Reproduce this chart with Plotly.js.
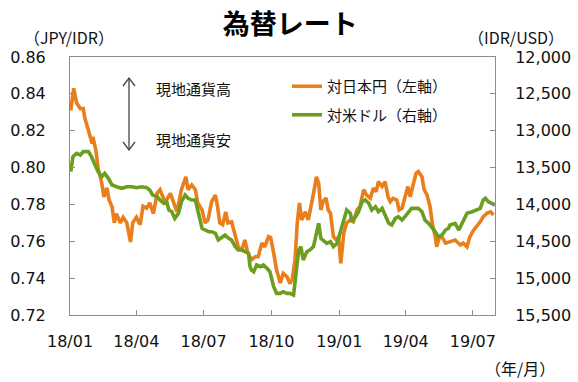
<!DOCTYPE html>
<html>
<head>
<meta charset="utf-8">
<script src="https://cdn.plot.ly/plotly-3.0.1.min.js"></script>
<style>
html,body{margin:0;padding:0;background:#fff;}
#chart{width:578px;height:382px;}
</style>
</head>
<body>
<div id="chart"></div>
<script>
// 対日本円（左軸） JPY/IDR
const jpyDates = ['2018-01-02','2018-01-06','2018-01-10','2018-01-15','2018-01-19','2018-01-21','2018-01-25','2018-01-31','2018-02-01','2018-02-05','2018-02-08','2018-02-13','2018-02-16','2018-02-20','2018-02-23','2018-02-27','2018-03-02','2018-03-05','2018-03-10','2018-03-14','2018-03-19','2018-03-24','2018-03-27','2018-04-01','2018-04-06','2018-04-10','2018-04-15','2018-04-19','2018-04-24','2018-04-29','2018-05-03','2018-05-10','2018-05-17','2018-05-21','2018-05-26','2018-06-01','2018-06-07','2018-06-10','2018-06-15','2018-06-20','2018-06-23','2018-06-29','2018-07-03','2018-07-07','2018-07-12','2018-07-17','2018-07-20','2018-07-23','2018-07-27','2018-07-31','2018-08-03','2018-08-08','2018-08-13','2018-08-17','2018-08-22','2018-08-26','2018-08-30','2018-09-04','2018-09-09','2018-09-13','2018-09-18','2018-09-22','2018-09-27','2018-09-30','2018-10-04','2018-10-08','2018-10-13','2018-10-17','2018-10-22','2018-10-26','2018-10-29','2018-11-02','2018-11-05','2018-11-08','2018-11-11','2018-11-16','2018-11-20','2018-11-25','2018-11-28','2018-12-01','2018-12-04','2018-12-07','2018-12-10','2018-12-14','2018-12-17','2018-12-20','2018-12-24','2018-12-28','2018-12-31','2019-01-03','2019-01-07','2019-01-11','2019-01-16','2019-01-20','2019-01-25','2019-01-29','2019-02-03','2019-02-07','2019-02-12','2019-02-16','2019-02-20','2019-02-23','2019-02-28','2019-03-04','2019-03-08','2019-03-11','2019-03-15','2019-03-20','2019-03-23','2019-03-27','2019-03-31','2019-04-04','2019-04-07','2019-04-12','2019-04-15','2019-04-18','2019-04-23','2019-04-26','2019-04-30','2019-05-04','2019-05-07','2019-05-11','2019-05-13','2019-05-16','2019-05-20','2019-05-25','2019-05-31','2019-06-07','2019-06-14','2019-06-18','2019-06-23','2019-06-27','2019-07-02','2019-07-06','2019-07-11','2019-07-15','2019-07-20','2019-07-25','2019-07-29'];
const jpyValues = [0.831,0.843,0.835,0.832,0.832,0.827,0.8215,0.813,0.8166,0.8095,0.800,0.7916,0.784,0.789,0.7824,0.7786,0.770,0.775,0.770,0.773,0.770,0.7596,0.770,0.773,0.769,0.779,0.778,0.7808,0.775,0.786,0.788,0.781,0.786,0.782,0.776,0.788,0.795,0.788,0.7906,0.788,0.781,0.777,0.770,0.7716,0.7815,0.785,0.7788,0.770,0.769,0.776,0.770,0.7706,0.7625,0.757,0.7553,0.7607,0.7536,0.750,0.7516,0.7516,0.759,0.757,0.7625,0.762,0.7536,0.7444,0.7374,0.7426,0.7408,0.737,0.739,0.750,0.770,0.7808,0.7716,0.776,0.7716,0.7808,0.788,0.795,0.7916,0.777,0.7815,0.7835,0.777,0.7753,0.7625,0.7607,0.7625,0.748,0.7643,0.770,0.7716,0.7706,0.777,0.7788,0.788,0.785,0.7833,0.7888,0.787,0.7924,0.7897,0.7924,0.7842,0.7815,0.7833,0.7824,0.777,0.7779,0.7842,0.7897,0.7842,0.7924,0.7969,0.7978,0.795,0.788,0.785,0.7788,0.7697,0.7625,0.757,0.7616,0.7625,0.759,0.760,0.7607,0.758,0.759,0.757,0.7625,0.766,0.768,0.7706,0.7733,0.7752,0.776,0.7743];

// 対米ドル（右軸） IDR/USD
const usdDates = ['2018-01-02','2018-01-05','2018-01-10','2018-01-15','2018-01-19','2018-01-26','2018-01-30','2018-02-04','2018-02-08','2018-02-13','2018-02-17','2018-02-22','2018-02-27','2018-03-05','2018-03-12','2018-03-19','2018-03-26','2018-04-01','2018-04-08','2018-04-15','2018-04-19','2018-04-23','2018-04-29','2018-05-03','2018-05-08','2018-05-12','2018-05-15','2018-05-19','2018-05-23','2018-05-28','2018-06-01','2018-06-06','2018-06-10','2018-06-15','2018-06-20','2018-06-22','2018-06-25','2018-06-29','2018-07-03','2018-07-08','2018-07-12','2018-07-17','2018-07-21','2018-07-26','2018-07-30','2018-08-04','2018-08-08','2018-08-13','2018-08-17','2018-08-22','2018-08-26','2018-08-31','2018-09-02','2018-09-04','2018-09-07','2018-09-11','2018-09-16','2018-09-20','2018-09-25','2018-09-29','2018-10-04','2018-10-08','2018-10-13','2018-10-17','2018-10-22','2018-10-26','2018-10-31','2018-11-03','2018-11-07','2018-11-10','2018-11-13','2018-11-18','2018-11-22','2018-11-27','2018-12-01','2018-12-04','2018-12-07','2018-12-10','2018-12-15','2018-12-20','2018-12-24','2018-12-29','2019-01-02','2019-01-07','2019-01-11','2019-01-16','2019-01-18','2019-01-23','2019-01-27','2019-02-01','2019-02-05','2019-02-10','2019-02-14','2019-02-19','2019-02-23','2019-02-28','2019-03-04','2019-03-09','2019-03-13','2019-03-18','2019-03-22','2019-03-27','2019-03-31','2019-04-05','2019-04-09','2019-04-14','2019-04-18','2019-04-23','2019-04-27','2019-05-02','2019-05-06','2019-05-11','2019-05-15','2019-05-20','2019-05-25','2019-05-29','2019-05-31','2019-06-07','2019-06-12','2019-06-18','2019-06-23','2019-06-30','2019-07-06','2019-07-11','2019-07-15','2019-07-18','2019-07-22','2019-07-27','2019-07-31'];
const usdValues = [13556,13352,13306,13329,13284,13284,13352,13465,13556,13624,13578,13646,13737,13760,13781,13760,13760,13773,13760,13773,13804,13872,13895,13940,13985,13963,14076,14099,14189,14121,13963,13872,13917,13940,13940,14031,14144,14324,14347,14370,14370,14392,14483,14438,14415,14460,14483,14573,14618,14618,14641,14663,14845,14890,14913,14822,14845,14822,14867,14913,15116,15206,15206,15184,15206,15206,15229,14935,14618,14573,14754,14641,14618,14573,14392,14256,14460,14483,14528,14505,14573,14528,14392,14211,14076,14121,14234,14166,14099,13963,13940,13985,14076,14031,14099,14053,14144,14256,14279,14189,14166,14211,14166,14099,14053,14053,14053,14099,14211,14256,14302,14370,14438,14415,14347,14324,14279,14256,14347,14211,14121,14099,14076,14053,13940,13917,13963,13985,14008];

const tickVals = ['2018-01-01','2018-04-01','2018-07-01','2018-10-01','2019-01-01','2019-04-01','2019-07-01'];
const tickText = ['18/01','18/04','18/07','18/10','19/01','19/04','19/07'];

const FONT = 'DejaVu Sans, "Noto Sans CJK JP", sans-serif';
const JFONT = '"Noto Sans CJK JP", sans-serif';
const ORANGE = '#EA7E1A';
const GREEN = '#6B9E1F';
const AX = '#8c8c8c';

// helpers to convert pixel positions to paper coords (plot area 70..495 x 57..315)
const px = x => (x - 70) / 425;
const py = y => (315 - y) / 258;

const traces = [
  {x: jpyDates, y: jpyValues, type: 'scatter', mode: 'lines', name: '対日本円（左軸）',
   line: {color: ORANGE, width: 3.6}, yaxis: 'y', legendgroup: 'a'},
  {x: usdDates, y: usdValues, type: 'scatter', mode: 'lines', name: '対米ドル（右軸）',
   line: {color: GREEN, width: 3.6}, yaxis: 'y2', legendgroup: 'b'}
];

const layout = {
  width: 578, height: 382,
  margin: {l: 70, r: 83, t: 57, b: 67, pad: 0},
  paper_bgcolor: '#fff', plot_bgcolor: '#fff',
  font: {family: FONT, size: 16, color: '#111'},
  title: {text: '<b>為替レート</b>', font: {family: JFONT, size: 27, color: '#000'},
          x: 0.502, xanchor: 'center', y: 0.936, yanchor: 'middle', yref: 'container'},
  showlegend: true,
  legend: {x: px(287), y: py(70), xanchor: 'left', yanchor: 'top',
           bgcolor: 'rgba(0,0,0,0)', font: {family: JFONT, size: 15, color: '#111'},
           tracegroupgap: 6, traceorder: 'grouped', itemwidth: 30},
  xaxis: {type: 'date', range: ['2018-01-01', '2019-07-31'],
          tickmode: 'array', tickvals: tickVals, ticktext: tickText,
          ticks: 'inside', ticklen: 5, tickcolor: AX, tickwidth: 1,
          showline: true, linecolor: AX, linewidth: 1, mirror: true,
          showgrid: false, zeroline: false, ticklabelstandoff: 12,
          tickfont: {family: FONT, size: 16, color: '#111'}},
  yaxis: {range: [0.72, 0.86], dtick: 0.02, tick0: 0.72, tickformat: '.2f',
          ticks: 'inside', ticklen: 5, tickcolor: AX, tickwidth: 1,
          showline: true, linecolor: AX, linewidth: 1, mirror: false,
          showgrid: false, zeroline: false, ticklabelstandoff: 20,
          tickfont: {family: FONT, size: 16, color: '#111'}},
  yaxis2: {range: [15500, 12000], dtick: 500, tick0: 12000, tickformat: ',d',
           overlaying: 'y', side: 'right',
           ticks: 'inside', ticklen: 5, tickcolor: AX, tickwidth: 1,
           showline: true, linecolor: AX, linewidth: 1,
           showgrid: false, zeroline: false, ticklabelstandoff: 16,
           tickfont: {family: FONT, size: 16, color: '#111'}},
  shapes: [
    {type: 'line', xref: 'paper', yref: 'paper', x0: px(129), x1: px(129), y0: py(78), y1: py(150),
     line: {color: '#444', width: 1.3}},
    {type: 'path', xref: 'paper', yref: 'paper',
     path: `M ${px(123)} ${py(86)} L ${px(129)} ${py(78)} L ${px(135)} ${py(86)}`,
     line: {color: '#444', width: 1.3}},
    {type: 'path', xref: 'paper', yref: 'paper',
     path: `M ${px(123)} ${py(142)} L ${px(129)} ${py(150)} L ${px(135)} ${py(142)}`,
     line: {color: '#444', width: 1.3}}
  ],
  annotations: [
    {text: '現地通貨高', xref: 'paper', yref: 'paper', x: px(154), y: py(88),
     xanchor: 'left', yanchor: 'middle', showarrow: false, font: {family: JFONT, size: 15, color: '#111'}},
    {text: '現地通貨安', xref: 'paper', yref: 'paper', x: px(154), y: py(139),
     xanchor: 'left', yanchor: 'middle', showarrow: false, font: {family: JFONT, size: 15, color: '#111'}},
    {text: '（JPY/IDR）', xref: 'paper', yref: 'paper', x: px(69), y: py(37),
     xanchor: 'center', yanchor: 'middle', showarrow: false, font: {family: JFONT, size: 16, color: '#111'}},
    {text: '（IDR/USD）', xref: 'paper', yref: 'paper', x: px(516), y: py(37),
     xanchor: 'center', yanchor: 'middle', showarrow: false, font: {family: JFONT, size: 16, color: '#111'}},
    {text: '（年/月）', xref: 'paper', yref: 'paper', x: px(520), y: py(368),
     xanchor: 'center', yanchor: 'middle', showarrow: false, font: {family: JFONT, size: 16, color: '#111'}}
  ]
};

Plotly.newPlot('chart', traces, layout, {displayModeBar: false, staticPlot: true});
</script>
</body>
</html>
